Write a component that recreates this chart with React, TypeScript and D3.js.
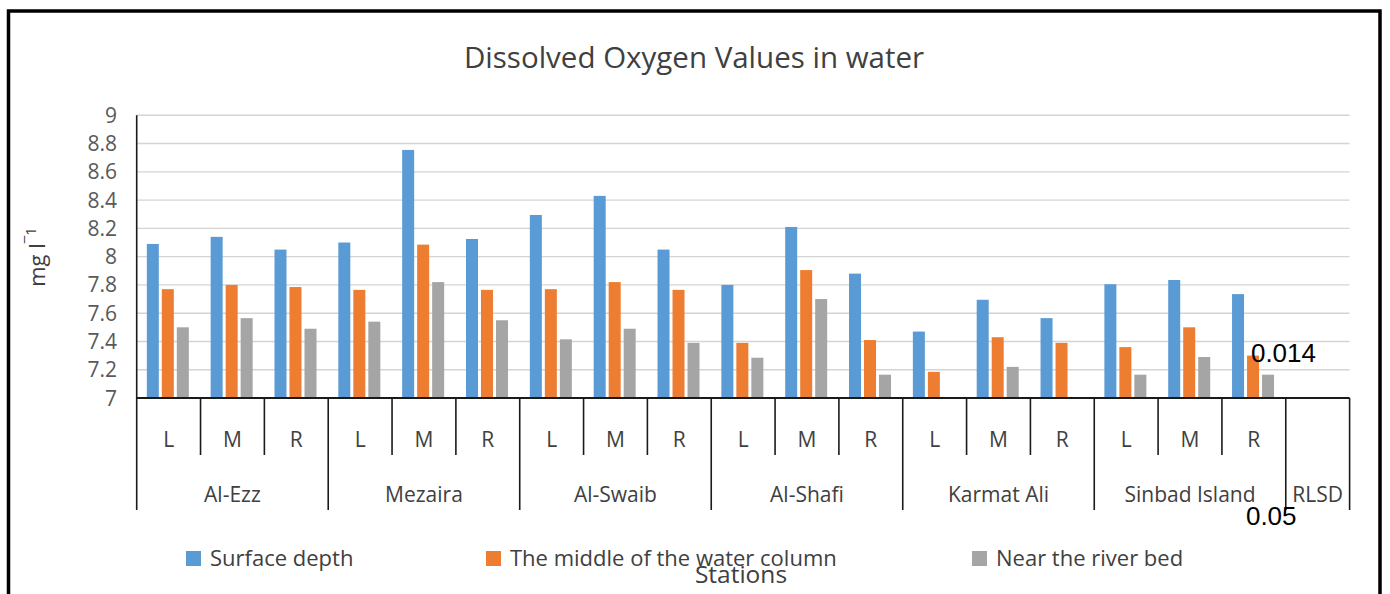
import React from "react";
import * as d3 from "d3";

const stations = ["Al-Ezz", "Mezaira", "Al-Swaib", "Al-Shafi", "Karmat Ali", "Sinbad Island"];
const sides = ["L", "M", "R"];
const extraCategory = "RLSD";

const seriesNames = ["Surface depth", "The middle of the water column", "Near the river bed"];
const seriesColors = ["#5B9BD5", "#ED7D31", "#A5A5A5"];

// order: Al-Ezz L,M,R, Mezaira L,M,R, ..., Sinbad Island L,M,R, RLSD
const surfaceDepth: (number | null)[] = [8.09, 8.14, 8.05, 8.1, 8.755, 8.125, 8.295, 8.43, 8.05, 7.8, 8.21, 7.88, 7.47, 7.695, 7.565, 7.805, 7.835, 7.735, null];
const middleColumn: (number | null)[] = [7.77, 7.8, 7.785, 7.765, 8.085, 7.765, 7.77, 7.82, 7.765, 7.39, 7.905, 7.41, 7.185, 7.43, 7.39, 7.36, 7.5, 7.3, null];
const nearRiverBed: (number | null)[] = [7.5, 7.565, 7.49, 7.54, 7.82, 7.55, 7.415, 7.49, 7.39, 7.285, 7.7, 7.165, null, 7.22, null, 7.165, 7.29, 7.165, null];

const yTicks = [7, 7.2, 7.4, 7.6, 7.8, 8, 8.2, 8.4, 8.6, 8.8, 9];
const noteInside = "0.014";
const noteBelow = "0.05";

const W = 1390;
const H = 594;
const FONT = "'Open Sans', 'Noto Sans', sans-serif";

export default function App() {
  const categories: string[] = [];
  stations.forEach((s) => sides.forEach((p) => categories.push(s + "|" + p)));
  categories.push(extraCategory + "|");

  const left = 136.7;
  const right = 1349.6;
  const top = 115.3;
  const bottom = 398;

  const x0 = d3.scaleBand<string>().domain(categories).range([left, right]).padding(0);
  const y = d3.scaleLinear().domain([7, 9]).range([bottom, top]);
  const bw = x0.bandwidth();

  const seriesValues = [surfaceDepth, middleColumn, nearRiverBed];

  const bars: JSX.Element[] = [];
  categories.forEach((c, i) => {
    const cx = (x0(c) as number) + bw / 2 - 0.8;
    const x1 = d3.scaleBand<string>().domain(seriesNames).range([cx - 21, cx + 21]).paddingInner(0.2).paddingOuter(0);
    seriesNames.forEach((s, k) => {
      const v = seriesValues[k][i];
      if (v === null || v === undefined) return;
      bars.push(
        <rect
          key={c + s}
          x={x1(s)}
          y={y(v)}
          width={x1.bandwidth()}
          height={y(7) - y(v)}
          fill={seriesColors[k]}
        />
      );
    });
  });

  const groups = [...stations, extraCategory];
  const groupSizes = [...stations.map(() => 3), 1];

  const sepLines: JSX.Element[] = [];
  for (let i = 0; i <= categories.length; i++) {
    const xx = i < categories.length ? (x0(categories[i]) as number) : right;
    const isGroup = i % 3 === 0 || i >= 18;
    sepLines.push(
      <line key={"sep" + i} x1={xx} x2={xx} y1={bottom} y2={isGroup ? 510 : 455} stroke="#1a1a1a" strokeWidth={1.6} />
    );
  }

  let gi = 0;
  const groupLabels = groups.map((g, idx) => {
    const start = x0(categories[gi]) as number;
    const end = start + bw * groupSizes[idx];
    gi += groupSizes[idx];
    return (
      <text key={"g" + g} x={(start + end) / 2} y={502} textAnchor="middle" fontSize={21} fill="#404040" fontFamily={FONT}>
        {g}
      </text>
    );
  });

  const sinbadR = x0("Sinbad Island|R") as number;

  const legendX = [186, 486, 972];

  return (
    <div style={{ position: "absolute", left: 0, top: 0, width: W, height: H, background: "#fff" }}>
      <svg width={W} height={H} style={{ display: "block" }}>
        <rect x={0} y={0} width={W} height={H} fill="#fff" />
        {/* frame */}
        <path d={`M8.5,${H + 5} L8.5,11 L1380,11 L1380,${H + 5}`} fill="none" stroke="#000" strokeWidth={3.5} />

        <text x={694} y={68} textAnchor="middle" fontSize={29.5} fill="#404040" fontFamily={FONT}>
          Dissolved Oxygen Values in water
        </text>

        {/* gridlines */}
        {yTicks.map((t) => (
          <line key={"gl" + t} x1={left} x2={right} y1={y(t)} y2={y(t)} stroke="#d4d4d4" strokeWidth={1.4} />
        ))}

        {bars}

        {/* axes */}
        <line x1={left} x2={left} y1={top} y2={bottom} stroke="#1a1a1a" strokeWidth={1.6} />
        <line x1={left} x2={right} y1={bottom} y2={bottom} stroke="#1a1a1a" strokeWidth={2} />
        {sepLines}

        {yTicks.map((t) => (
          <text key={"yt" + t} x={117} y={y(t) + 7.5} textAnchor="end" fontSize={21} fill="#595959" fontFamily={FONT}>
            {d3.format("~g")(t)}
          </text>
        ))}

        <text transform={`translate(45,257) rotate(-90)`} textAnchor="middle" fontSize={22} fill="#404040" fontFamily={FONT}>
          mg l
          <tspan fontSize={15} dy={-9}>
            {"\u203E1"}
          </tspan>
        </text>

        {categories.map((c) => {
          const side = c.split("|")[1];
          if (!side) return null;
          return (
            <text key={"cl" + c} x={(x0(c) as number) + bw / 2} y={447} textAnchor="middle" fontSize={21} fill="#404040" fontFamily={FONT}>
              {side}
            </text>
          );
        })}
        {groupLabels}

        {/* legend */}
        {seriesNames.map((s, k) => (
          <g key={"lg" + s}>
            <rect x={legendX[k]} y={551} width={15} height={15} fill={seriesColors[k]} />
            <text x={legendX[k] + 24} y={566} fontSize={22} fill="#404040" fontFamily={FONT}>
              {s}
            </text>
          </g>
        ))}

        <text x={741} y={583} textAnchor="middle" fontSize={24.5} fill="#404040" fontFamily={FONT}>
          Stations
        </text>

        <text x={sinbadR + 29} y={y(7.255)} fontSize={26} fill="#000" fontFamily="'Liberation Sans', Arial, sans-serif">
          {noteInside}
        </text>
        <text x={sinbadR + 24} y={525} fontSize={26} fill="#000" fontFamily="'Liberation Sans', Arial, sans-serif">
          {noteBelow}
        </text>
      </svg>
    </div>
  );
}
